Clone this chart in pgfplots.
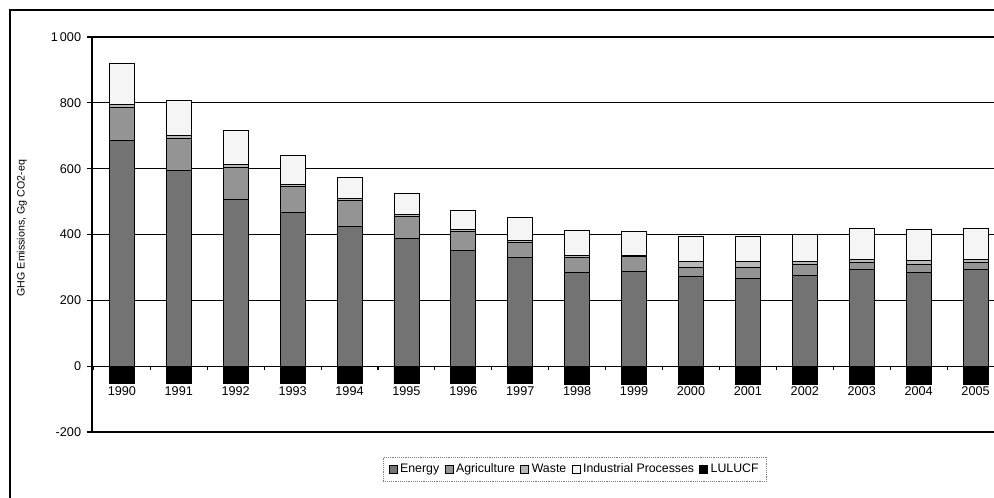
\documentclass[border=0pt]{standalone}
\usepackage{pgfplots}
\pgfplotsset{compat=1.18}
\usepackage{pgfplotstable}
\usepackage{fontspec}
\setmainfont{Liberation Sans}

\pgfplotstableread{
x  E   A   W   I   L
0  685 100 10  126 -52
1  595 98  8   106 -52
2  506 99  8   102 -52
3  467 80  6   87  -52
4  425 79  6   62  -52
5  387 68  6   65  -52
6  352 58  6   58  -52
7  330 45  8   70  -52
8  286 44  5   78  -54
9  289 43  5   73  -54
10 274 26  19  76  -54
11 266 35  18  76  -54
12 276 33  10  80  -54
13 295 20  8   95  -54
14 285 25  12  93  -54
15 294 20  10  96  -54
}\data

\pgfplotsset{
  common/.style={
    at={(69pt,49.5pt)}, anchor=south west, scale only axis,
    width=684pt, height=296.25pt,
    xmin=-0.525, xmax=15.5, ymin=-200, ymax=1000,
    bar width=0.44,
  },
}

\begin{document}
\begin{tikzpicture}[x=1pt,y=1pt]
\useasboundingbox (0,0) rectangle (745.5,373.5);
\draw[line width=0.9pt] (7.5,-10) -- (7.5,366) -- (760,366);

\begin{axis}[common, hide axis, ybar, bar shift=0pt]
\addplot[fill=black, draw=black, line width=0.6pt] table[x=x,y=L]{\data};
\end{axis}

\begin{axis}[common, ybar stacked,
  axis x line=middle, axis y line=left,
  axis line style={-, line width=0.9pt},
  hide obscured x ticks=false, hide obscured y ticks=false,
  ymajorgrids, grid style={black, line width=0.8pt},
  ytick={-200,0,200,400,600,800,1000},
  yticklabels={-200,0,200,400,600,800,1\,000},
  xtick={0,...,15},
  xticklabels={1990,1991,1992,1993,1994,1995,1996,1997,1998,1999,2000,2001,2002,2003,2004,2005},
  minor xtick={-0.5,0.5,...,15.5},
  major x tick style={draw=none},
  tick align=outside,
  major tick length=4pt, minor tick length=3pt,
  tick style={black, line width=0.8pt},
  yticklabel style={font=\fontsize{9.5}{10}\selectfont, inner sep=1pt, xshift=-3pt},
  xticklabel style={font=\fontsize{9.5}{10}\selectfont, inner sep=1pt, yshift=-10pt},
  ylabel={GHG Emissions, Gg CO2-eq},
  ylabel style={at={(rel axis cs:-0.077,0.516)}, anchor=center, font=\fontsize{8}{9}\selectfont},
  legend columns=-1,
  legend style={at={(rel axis cs:0.5296,-0.0937)}, anchor=center,
    draw=gray, densely dotted, font=\fontsize{9.25}{10}\selectfont,
    inner xsep=4pt, inner ysep=3pt,
    /tikz/every even column/.append style={column sep=2pt},
    /tikz/every odd column/.append style={column sep=0pt}},
  legend image code/.code={\draw[#1, solid] (0pt,-3pt) rectangle (6pt,3pt);},
]
\addplot[fill=black!55, draw=black, line width=0.6pt] table[x=x,y=E]{\data};
\addplot[fill=black!42, draw=black, line width=0.6pt] table[x=x,y=A]{\data};
\addplot[fill=black!28, draw=black, line width=0.6pt] table[x=x,y=W]{\data};
\addplot[fill=black!4, draw=black, line width=0.6pt] table[x=x,y=I]{\data};
\addlegendimage{fill=black, draw=black}
\legend{Energy, Agriculture, Waste, Industrial Processes, LULUCF}
\end{axis}
\end{tikzpicture}
\end{document}
